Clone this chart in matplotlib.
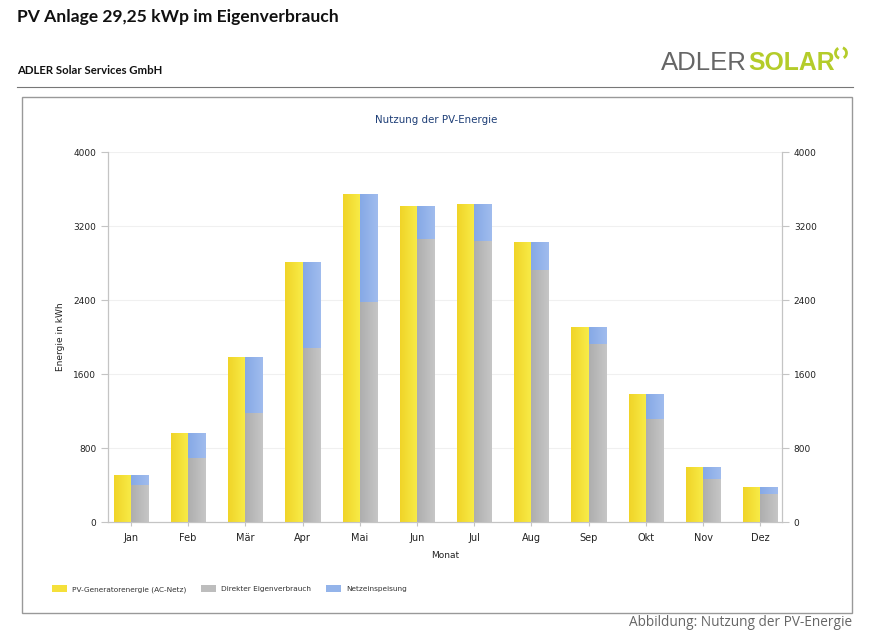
import numpy as np
import matplotlib
matplotlib.use('Agg')
import matplotlib.pyplot as plt
from matplotlib.patches import Rectangle, Arc
from matplotlib.colors import LinearSegmentedColormap

months = ['Jan', 'Feb', 'Mär', 'Apr', 'Mai', 'Jun', 'Jul', 'Aug', 'Sep', 'Okt', 'Nov', 'Dez']
generator = [510, 960, 1785, 2810, 3545, 3415, 3435, 3030, 2108, 1385, 595, 380]
direct_use = [400, 690, 1180, 1880, 2380, 3060, 3040, 2725, 1925, 1115, 465, 300]
feed_in = [g - d for g, d in zip(generator, direct_use)]
y_ticks = [0, 800, 1600, 2400, 3200, 4000]

W, H = 872, 642

def px_axes(fig, left, top, right, bottom):
    return fig.add_axes([left / W, 1 - bottom / H, (right - left) / W, (bottom - top) / H])

def shade(ax, bars, c0, c1):
    # left to right gradient, clipped to each bar
    cmap = LinearSegmentedColormap.from_list('s', [c0, c1])
    grad = np.linspace(0, 1, 32).reshape(1, -1)
    for b in bars:
        x0, y0 = b.get_x(), b.get_y()
        im = ax.imshow(grad, cmap=cmap, aspect='auto', zorder=3,
                       extent=[x0, x0 + b.get_width(), y0, y0 + b.get_height()])
        im.set_clip_path(b)

fig = plt.figure(figsize=(W / 100, H / 100), dpi=100, facecolor='white')

# page decoration in pixel coordinates
bg = fig.add_axes([0, 0, 1, 1])
bg.set_xlim(0, W)
bg.set_ylim(H, 0)
bg.axis('off')
bg.text(17, 17, 'PV Anlage 29,25 kWp im Eigenverbrauch', family='Lato', weight='bold',
        fontsize=12.6, color='#111111', va='center')
bg.text(17, 70, 'ADLER Solar Services GmbH', family='Lato', weight='bold',
        fontsize=8.2, color='#111111', va='center')
bg.plot([17, 853], [87, 87], color='#777777', lw=0.8)
bg.add_patch(Rectangle((22, 97), 830, 516, fc='white', ec='#999999', lw=1))
bg.text(661, 63, 'ADLER', family='Liberation Sans', fontsize=18.5, color='#666666', va='center')
bg.text(748, 63, 'SOLAR', family='Liberation Sans', weight='bold', fontsize=17.8,
        color='#b4cc2a', va='center')
bg.add_patch(Arc((841, 53), 11, 11, theta1=-70, theta2=60, color='#b4cc2a', lw=2))
bg.add_patch(Arc((841, 53), 11, 11, theta1=110, theta2=240, color='#b4cc2a', lw=2))
bg.text(852, 623, 'Abbildung: Nutzung der PV-Energie', family='Open Sans', fontsize=9.85,
        color='#666666', ha='right', va='center')
bg.text(436, 120, 'Nutzung der PV-Energie', fontsize=7.4, color='#1f3f77', ha='center', va='center')

ax = px_axes(fig, 108, 152, 782, 522)
ax.patch.set_alpha(0)
x = np.arange(len(months))
w = 0.3
b1 = ax.bar(x - w / 2, generator, w, color='#f5e03a', zorder=2, label='PV-Generatorenergie (AC-Netz)')
b2 = ax.bar(x + w / 2, direct_use, w, color='#bdbdbd', zorder=2, label='Direkter Eigenverbrauch')
b3 = ax.bar(x + w / 2, feed_in, w, bottom=direct_use, color='#94b4ea', zorder=2, label='Netzeinspeisung')
shade(ax, b1, '#f0d428', '#f8ec48')
shade(ax, b2, '#aeaeae', '#c6c6c6')
shade(ax, b3, '#86a9e6', '#a0bcee')

ax.set_xlim(-0.4, 11.38)
ax.set_ylim(0, 4000)
ax.set_xticks(x)
ax.set_xticklabels(months)
ax.set_yticks(y_ticks)
ax.grid(axis='y', color='#f0f0f0', lw=0.8, zorder=0)
ax.set_axisbelow(True)
ax.set_xlabel('Monat', fontsize=6.5, color='#222222', labelpad=6)
ax.set_ylabel('Energie in kWh', fontsize=6.5, color='#222222', labelpad=6)
ax.tick_params(axis='y', labelsize=6.5, labelcolor='#222222', color='#c4c4c4', length=5, width=0.8)
ax.tick_params(axis='x', labelsize=7, labelcolor='#222222', color='#c4c4c4', length=3, width=0.8, pad=5)
ax.spines['top'].set_visible(False)
for s in ['left', 'bottom', 'right']:
    ax.spines[s].set_color('#c4c4c4')

ax2 = ax.twinx()
ax2.set_ylim(0, 4000)
ax2.set_yticks(y_ticks)
ax2.tick_params(axis='y', labelsize=6.5, labelcolor='#222222', color='#c4c4c4', length=5, width=0.8)
ax2.spines['top'].set_visible(False)
for s in ['left', 'bottom', 'right']:
    ax2.spines[s].set_color('#c4c4c4')

fig.legend(handles=[b1, b2, b3], loc='center left', bbox_to_anchor=(45 / W, 1 - 589 / H), ncol=3,
           frameon=False, fontsize=5.3, labelcolor='#333333', handlelength=2.05, handleheight=1.0,
           handletextpad=0.7, columnspacing=2.0)

fig.savefig('out.png', dpi=100)
